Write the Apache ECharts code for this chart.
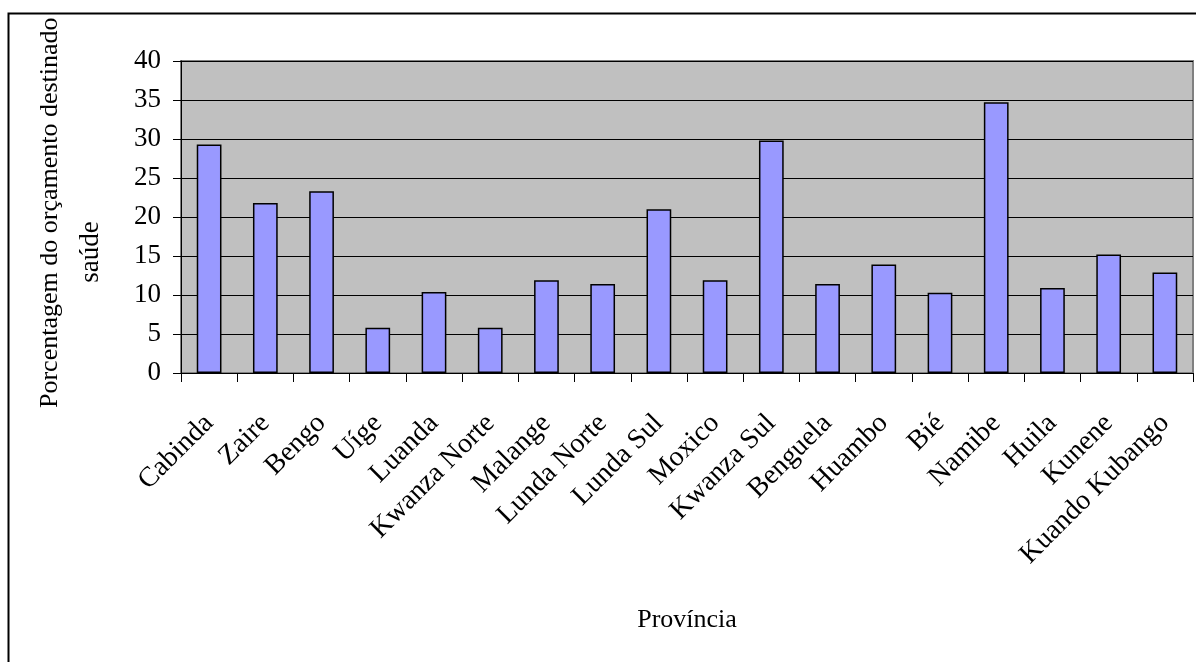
<!DOCTYPE html>
<html>
<head>
<meta charset="utf-8">
<script src="https://cdn.jsdelivr.net/npm/echarts@6/dist/echarts.min.js"></script>
<style>
  html, body { margin: 0; padding: 0; background: #fff; }
  #chart { width: 1196px; height: 662px; }
</style>
</head>
<body>
<div id="chart"></div>
<script>
var provincias = ['Cabinda', 'Zaire', 'Bengo', 'Uíge', 'Luanda', 'Kwanza Norte', 'Malange', 'Lunda Norte', 'Lunda Sul',
  'Moxico', 'Kwanza Sul', 'Benguela', 'Huambo', 'Bié', 'Namibe', 'Huila', 'Kunene', 'Kuando Kubango'];
var percentagens = [29.3, 21.8, 23.3, 5.8, 10.4, 5.8, 11.9, 11.4, 21.0,
  11.9, 29.8, 11.4, 13.9, 10.3, 34.7, 10.9, 15.2, 12.9];
var yTicks = [0, 5, 10, 15, 20, 25, 30, 35, 40];

var fonte = '"Liberation Serif", "DejaVu Serif", serif';
var myChart = echarts.init(document.getElementById('chart'));

var option = {
  animation: false,
  backgroundColor: '#fff',
  grid: {
    left: 181, top: 61, right: 3, bottom: 289,
    show: true,
    backgroundColor: '#C0C0C0',
    borderColor: '#808080',
    borderWidth: 2
  },
  xAxis: {
    type: 'category',
    data: provincias,
    name: 'Província',
    nameLocation: 'middle',
    nameGap: 234,
    nameTextStyle: { fontFamily: fonte, fontSize: 26, color: '#000' },
    axisLine: { lineStyle: { color: '#000', width: 1 } },
    axisTick: { show: true, length: 9, alignWithLabel: false, lineStyle: { color: '#000' } },
    axisLabel: {
      rotate: 45, margin: 46, interval: 0,
      fontFamily: fonte, fontSize: 28, color: '#000'
    },
    splitLine: { show: false }
  },
  yAxis: {
    type: 'value',
    min: yTicks[0],
    max: yTicks[yTicks.length - 1],
    interval: 5,
    axisLine: { show: true, lineStyle: { color: '#000', width: 1 } },
    axisTick: { show: true, length: 8, lineStyle: { color: '#000' } },
    axisLabel: { margin: 20, fontFamily: fonte, fontSize: 27, color: '#000' },
    splitLine: { show: true, lineStyle: { color: '#000', width: 1 } }
  },
  series: [{
    type: 'bar',
    data: percentagens,
    barWidth: '44%',
    itemStyle: { color: '#9999FF', borderColor: '#000', borderWidth: 1.5 }
  }],
  graphic: [
    {
      type: 'text', z: 10,
      x: 50, y: 408, rotation: Math.PI / 2,
      style: {
        text: 'Porcentagem do orçamento destinado à',
        font: '26px ' + fonte, fill: '#000',
        textAlign: 'left', textVerticalAlign: 'middle'
      }
    },
    {
      type: 'text', z: 10,
      x: 91, y: 252, rotation: Math.PI / 2,
      style: {
        text: 'saúde',
        font: '27px ' + fonte, fill: '#000',
        textAlign: 'center', textVerticalAlign: 'middle'
      }
    },
    // mask above the outer frame
    {
      type: 'rect', z: 20,
      shape: { x: 0, y: 0, width: 1196, height: 13 },
      style: { fill: '#fff' }
    },
    {
      type: 'rect', z: 21,
      shape: { x: 8.5, y: 13.5, width: 1200, height: 700 },
      style: { fill: 'none', stroke: '#000', lineWidth: 2 }
    }
  ]
};
myChart.setOption(option);
</script>
</body>
</html>
